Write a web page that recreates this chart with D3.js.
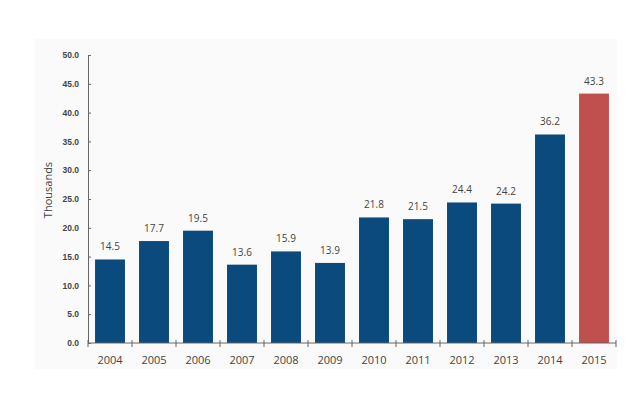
<!DOCTYPE html>
<html><head><meta charset="utf-8">
<script src="https://cdn.jsdelivr.net/npm/d3@7"></script>
<style>body{margin:0;background:#fff}</style>
</head><body>
<svg id="c" width="640" height="393"></svg>
<script>
const years = ["2004","2005","2006","2007","2008","2009","2010","2011","2012","2013","2014","2015"];
const values = [14.5,17.7,19.5,13.6,15.9,13.9,21.8,21.5,24.4,24.2,36.2,43.3];
const yTicks = [0,5,10,15,20,25,30,35,40,45,50];
const highlight = ["2015"];

const svg = d3.select("#c");
svg.append("rect").attr("x",35).attr("y",39).attr("width",582).attr("height",330).attr("fill","#fafafa");

const x = d3.scaleBand().domain(years).range([88,616]).paddingInner(0.32).paddingOuter(0.16);
const y = d3.scaleLinear().domain([0,50]).range([343,55]);

// y axis
const ya = svg.append("g").attr("transform","translate(88,0)")
  .call(d3.axisLeft(y).tickValues(yTicks).tickFormat(d3.format(".1f")).tickSize(4).tickSizeOuter(0));
ya.select(".domain").attr("stroke","#666");
ya.selectAll(".tick line").attr("stroke","#666").attr("x2",3);
ya.selectAll(".tick text").attr("x",-9).attr("font-family","Liberation Sans Narrow, Liberation Sans, sans-serif")
  .attr("font-size",8.5).attr("font-weight","bold").attr("fill","#444");

// bars
svg.selectAll("rect.bar").data(values).enter().append("rect").attr("class","bar")
  .attr("x",(d,i)=>x(years[i])).attr("width",x.bandwidth())
  .attr("y",d=>y(d)).attr("height",d=>y(0)-y(d))
  .attr("fill",(d,i)=>highlight.includes(years[i])?"#c0504d":"#0b4a7d");

// value labels
svg.selectAll("text.val").data(values).enter().append("text").attr("class","val")
  .attr("x",(d,i)=>x(years[i])+x.bandwidth()/2).attr("y",d=>y(d)-9)
  .attr("text-anchor","middle").attr("font-family","Open Sans, sans-serif").attr("font-size",10)
  .attr("fill","#444").text(d=>d.toFixed(1));

// x axis
const step = x.step();
const xa = svg.append("g").attr("transform","translate(0,343)");
xa.append("line").attr("x1",88).attr("x2",616).attr("stroke","#666");
const bounds = years.map((d,i)=>88+i*step).concat([616]);
xa.selectAll("line.t").data(bounds).enter().append("line").attr("class","t")
  .attr("x1",d=>d).attr("x2",d=>d).attr("y1",-3).attr("y2",4).attr("stroke","#666");
xa.selectAll("text").data(years).enter().append("text")
  .attr("x",d=>x(d)+x.bandwidth()/2).attr("y",21).attr("text-anchor","middle")
  .attr("font-family","Open Sans, sans-serif").attr("font-size",11).attr("fill","#444").text(d=>d);

// y title
svg.append("text").attr("transform","translate(52,190) rotate(-90)").attr("text-anchor","middle")
  .attr("font-family","Open Sans, sans-serif").attr("font-size",11).attr("fill","#444").text("Thousands");
</script>
</body></html>
